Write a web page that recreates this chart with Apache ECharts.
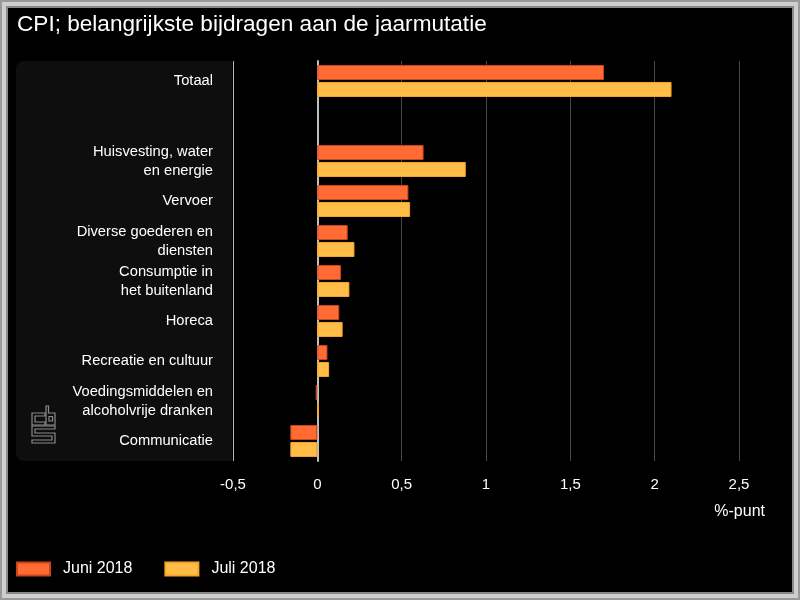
<!DOCTYPE html>
<html>
<head>
<meta charset="utf-8">
<script src="https://cdn.jsdelivr.net/npm/echarts@6/dist/echarts.min.js"></script>
<style>
  html, body { margin: 0; padding: 0; background: #000; }
  #frame { width: 800px; height: 600px; box-sizing: border-box; border: 2px solid #9a9a9a; background: #cfcfcf; padding: 4px; }
  #inner { width: 100%; height: 100%; box-sizing: border-box; border: 2px solid #8a8a8a; background: #000; }
  #chart { width: 784px; height: 584px; }
</style>
</head>
<body>
<div id="frame"><div id="inner"><div id="chart"></div></div></div>
<script>
const titleText = 'CPI; belangrijkste bijdragen aan de jaarmutatie';
const categories = [
  'Totaal',
  '',
  'Huisvesting, water\nen energie',
  'Vervoer',
  'Diverse goederen en\ndiensten',
  'Consumptie in\nhet buitenland',
  'Horeca',
  'Recreatie en cultuur',
  'Voedingsmiddelen en\nalcoholvrije dranken',
  'Communicatie'
];
const seriesNames = ['Juni 2018', 'Juli 2018'];
const juni2018 = [1.70, null, 0.63, 0.54, 0.18, 0.14, 0.13, 0.06, -0.01, -0.16];
const juli2018 = [2.10, null, 0.88, 0.55, 0.22, 0.19, 0.15, 0.07, 0.01, -0.16];
const xTicks = { min: -0.5, max: 2.5, interval: 0.5 };
const unitLabel = '%-punt';

const chart = echarts.init(document.getElementById('chart'), null, { renderer: 'canvas' });
const font = '"Liberation Sans", Arial, sans-serif';
const logoStroke = { stroke: '#8c8c8c', lineWidth: 1.2, fill: null };

const logo = {
  type: 'group', x: 24, y: 398, z: -5, silent: true,
  children: [
    { type: 'polygon', shape: { points: [[13,7],[0,7],[0,19],[13,19],[13,16],[3,16],[3,10],[13,10]] }, style: logoStroke },
    { type: 'polygon', shape: { points: [[14,0],[16.5,0],[16.5,7],[23,7],[23,19],[14,19]] }, style: logoStroke },
    { type: 'rect', shape: { x: 17, y: 10.5, width: 3.5, height: 4.5 }, style: logoStroke },
    { type: 'polygon', shape: { points: [[23,20],[0,20],[0,30],[20,30],[20,34],[0,34],[0,37],[23,37],[23,27],[3,27],[3,23],[23,23]] }, style: logoStroke }
  ]
};

const option = {
  backgroundColor: '#000',
  animation: false,
  title: {
    text: titleText,
    left: 9, top: 5, padding: 0,
    textStyle: { color: '#ffffff', fontSize: 22.6, fontWeight: 'normal', fontFamily: font }
  },
  legend: {
    left: 8, top: 553, padding: 0,
    itemWidth: 33, itemHeight: 13, itemGap: 32,
    icon: 'rect',
    textStyle: { color: '#ffffff', fontSize: 16, fontFamily: font, padding: [0, 0, 0, 8] },
    data: seriesNames
  },
  grid: { left: 225, right: 53, top: 53, bottom: 131, containLabel: false },
  xAxis: {
    type: 'value',
    min: xTicks.min, max: xTicks.max, interval: xTicks.interval,
    axisLine: { show: false },
    axisTick: { show: false },
    axisLabel: {
      color: '#ffffff', fontSize: 15, fontFamily: font, margin: 16,
      formatter: v => String(+v.toFixed(1)).replace('.', ',')
    },
    splitLine: { show: true, lineStyle: { color: ['#b8b8b8', '#484848', '#484848', '#484848', '#484848', '#484848', '#484848'], width: 1 } }
  },
  yAxis: {
    type: 'category',
    inverse: true,
    data: categories,
    axisLine: { show: true, onZero: true, lineStyle: { color: '#bfbfbf', width: 2 } },
    axisTick: { show: false },
    axisLabel: { color: '#ffffff', fontSize: 14.7, fontFamily: font, margin: 20, lineHeight: 19, align: 'right', padding: [8, 0, 0, 0] },
    splitLine: { show: false }
  },
  graphic: [
    { type: 'rect', z: -10, silent: true, shape: { x: 8, y: 53, width: 216, height: 400, r: [8, 0, 0, 8] }, style: { fill: '#0e0e0e' } },
    logo,
    { type: 'text', x: 757, y: 504, silent: true, style: { text: unitLabel, fill: '#ffffff', font: '16px ' + font, textAlign: 'right', textVerticalAlign: 'middle' } }
  ],
  series: [
    {
      name: seriesNames[0], type: 'bar', data: juni2018,
      barWidth: 15, barGap: '13%',
      itemStyle: { color: '#ff6b33', borderColor: '#c8461a', borderWidth: 1 }
    },
    {
      name: seriesNames[1], type: 'bar', data: juli2018,
      barWidth: 15, barGap: '13%',
      itemStyle: { color: '#ffbd47', borderColor: '#f7a52a', borderWidth: 1 }
    }
  ]
};
chart.setOption(option);
</script>
</body>
</html>
